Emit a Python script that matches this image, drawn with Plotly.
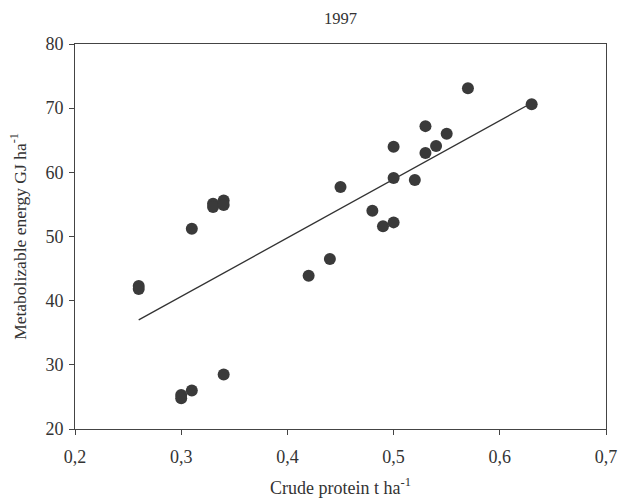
import plotly.graph_objects as go

protein = [0.26, 0.26, 0.30, 0.30, 0.31, 0.34, 0.31, 0.33, 0.33, 0.34, 0.34,
           0.42, 0.44, 0.45, 0.48, 0.49, 0.50, 0.50, 0.50, 0.52, 0.53, 0.53,
           0.54, 0.55, 0.57, 0.63]
energy = [42.3, 41.8, 25.3, 24.8, 26.0, 28.5, 51.2, 55.1, 54.6, 55.6, 54.9,
          43.9, 46.5, 57.7, 54.0, 51.6, 52.2, 59.1, 64.0, 58.8, 67.2, 63.0,
          64.1, 66.0, 73.1, 70.6]
fit_x = [0.26, 0.63]
fit_y = [37.0, 70.8]

font = "Liberation Serif"
ink = "#333333"
fig = go.Figure()
fig.add_trace(go.Scatter(x=fit_x, y=fit_y, mode="lines",
                         line=dict(color=ink, width=1.3), showlegend=False))
fig.add_trace(go.Scatter(x=protein, y=energy, mode="markers",
                         marker=dict(color="#3a3a3a", size=12), showlegend=False))

fig.update_layout(
    width=619, height=501,
    margin=dict(l=75, r=13, t=44, b=72),
    paper_bgcolor="white", plot_bgcolor="white",
    separators=",.",
    font=dict(family=font, size=17, color=ink),
    title=dict(text="1997", x=0.5, xref="paper", y=0.964, yanchor="middle",
               font=dict(family=font, size=16.5, color=ink)),
)
fig.update_xaxes(range=[0.2, 0.7], tickvals=[0.2, 0.3, 0.4, 0.5, 0.6, 0.7],
                 tickformat=".1f", ticks="outside", ticklen=5, tickcolor="#444",
                 ticklabelstandoff=6, automargin=False,
                 tickfont=dict(family=font, size=18, color=ink),
                 showline=True, linecolor="#444", linewidth=1, mirror=True,
                 showgrid=False, zeroline=False,
                 title=dict(text="Crude protein t ha<sup>-1</sup>", standoff=15,
                            font=dict(family=font, size=18, color=ink)))
fig.update_yaxes(range=[20, 80], tickvals=[20, 30, 40, 50, 60, 70, 80],
                 ticks="outside", ticklen=5, tickcolor="#444",
                 ticklabelstandoff=2, automargin=False,
                 tickfont=dict(family=font, size=18, color=ink),
                 showline=True, linecolor="#444", linewidth=1, mirror=True,
                 showgrid=False, zeroline=False,
                 title=dict(text="Metabolizable energy GJ ha<sup>-1</sup>", standoff=14,
                            font=dict(family=font, size=17.5, color=ink)))
fig.write_html("out.html")
